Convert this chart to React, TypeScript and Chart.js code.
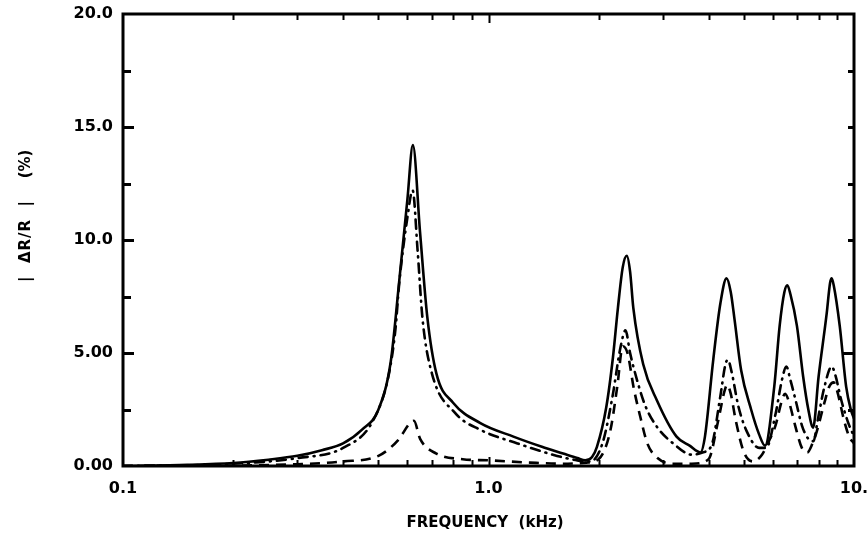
import React, { useEffect, useRef } from "react";
import { Chart, registerables } from "chart.js";

Chart.register(...registerables);

// Frequency (kHz) and |ΔR/R| (%) for the three traces
const SOLID_F = [
  0.1, 0.15, 0.2, 0.25, 0.3, 0.35, 0.4, 0.45, 0.5, 0.54, 0.57, 0.6, 0.621, 0.65, 0.68, 0.72, 0.8, 0.95, 1.17, 1.4, 1.6, 1.75, 1.84,
  1.92, 1.98, 2.1, 2.19, 2.26, 2.33, 2.39, 2.44, 2.49, 2.65, 2.89, 3.27, 3.55, 3.8,
  3.91, 4.12, 4.31, 4.48, 4.6, 4.71, 4.91, 5.23, 5.5, 5.71,
  6.05, 6.26, 6.45, 6.57, 6.7, 6.98, 7.26, 7.5, 7.73,
  8.0, 8.42, 8.6, 8.69, 8.8, 9.14, 9.52, 9.8, 10,
];
const SOLID_R = [
  0.0, 0.05, 0.13, 0.28, 0.45, 0.7, 1.0, 1.6, 2.5, 4.6, 8.2, 11.8, 14.2, 10.3, 6.6, 4.1, 2.8, 1.9, 1.3, 0.85, 0.55, 0.35, 0.25,
  0.4, 0.85, 2.6, 4.8, 7.0, 8.8, 9.3, 8.6, 7.0, 4.5, 2.9, 1.3, 0.9, 0.6,
  1.3, 4.7, 7.2, 8.3, 7.7, 6.5, 4.25, 2.5, 1.4, 0.9,
  3.5, 6.2, 7.7, 8.0, 7.6, 6.2, 3.95, 2.5, 1.7,
  3.95, 6.75, 8.1, 8.3, 8.0, 6.2, 3.5, 2.5, 2.1,
];

const DASHDOT_F = [
  0.1, 0.2, 0.3, 0.4, 0.483, 0.532, 0.556, 0.57, 0.6, 0.62, 0.64, 0.66, 0.7, 0.81, 0.95, 1.2, 1.5, 1.75, 1.9,
  2.05, 2.18, 2.3, 2.37, 2.44, 2.5, 2.68, 2.9, 3.2, 3.6, 3.85,
  4.08, 4.3, 4.45, 4.52, 4.62, 4.83, 5.1, 5.5, 5.75,
  6.1, 6.35, 6.53, 6.7, 6.95, 7.2, 7.5, 7.75,
  7.95, 8.3, 8.69, 8.9, 9.2, 9.6, 10,
];
const DASHDOT_R = [
  0.0, 0.1, 0.35, 0.8, 2.0, 3.95, 6.0, 8.1, 11.0, 12.2, 9.5, 6.5, 4.1, 2.35, 1.6, 1.0, 0.5, 0.25, 0.2,
  1.0, 3.0, 5.3, 6.0, 5.0, 4.3, 2.7, 1.7, 1.0, 0.5, 0.6,
  0.93, 3.0, 4.5, 4.7, 4.2, 2.62, 1.5, 0.8, 0.8,
  2.3, 3.8, 4.4, 3.8, 2.8, 1.8, 1.2, 1.1,
  2.0, 3.5, 4.4, 4.0, 3.0, 2.0, 1.3,
];

const DASHED_F = [
  0.1, 0.2, 0.3, 0.4, 0.5, 0.566, 0.61, 0.625, 0.65, 0.72, 0.85, 1.0, 1.3, 1.6, 1.85,
  2.0, 2.15, 2.25, 2.33, 2.4, 2.5, 2.6, 2.72, 2.9, 3.2, 3.6,
  4.0, 4.25, 4.42, 4.5, 4.6, 4.75, 5.0, 5.3, 5.6, 5.85,
  6.1, 6.35, 6.48, 6.65, 6.9, 7.2, 7.45, 7.7,
  7.9, 8.3, 8.55, 8.8, 9.0, 9.4, 9.7, 10,
];
const DASHED_R = [
  0.0, 0.02, 0.08, 0.2, 0.45, 1.15, 1.9, 2.0, 1.2, 0.55, 0.3, 0.25, 0.15, 0.1, 0.15,
  0.3, 1.5, 3.5, 5.3, 5.0, 3.4, 2.2, 1.0, 0.35, 0.1, 0.1,
  0.3, 2.0, 3.3, 3.6, 3.2, 2.0, 0.6, 0.2, 0.5, 1.1,
  1.8, 2.9, 3.2, 2.8, 1.8, 0.8, 0.6, 1.0,
  1.5, 2.8, 3.5, 3.7, 3.3, 2.0, 1.3, 1.0,
];

// Axis tick positions and the labels printed at them
const X_TICKS = [0.1, 0.2, 0.3, 0.4, 0.5, 0.6, 0.7, 0.8, 0.9, 1, 2, 3, 4, 5, 6, 7, 8, 9, 10];
const X_LABELS: Record<string, string> = { "0.1": "0.1", "1": "1.0", "10": "10." };
const Y_TICKS = [0, 2.5, 5, 7.5, 10, 12.5, 15, 17.5, 20];
const Y_LABELS: Record<string, string> = { "0": "0.00", "5": "5.00", "10": "10.0", "15": "15.0", "20": "20.0" };

const X_TITLE = "FREQUENCY  (kHz)";
const Y_TITLE_MAIN = "|  ΔR/R  |";
const Y_TITLE_UNIT = "(%)";

const FONT = "'DejaVu Sans', sans-serif";

const zip = (f: number[], r: number[]) => f.map((x, i) => ({ x, y: r[i] }));

// Draws the boxed frame, inward tick marks on all four sides and the axis titles
const framePlugin = {
  id: "frameAndTitles",
  afterDraw(chart: any) {
    const { ctx, chartArea } = chart;
    const { left, right, top, bottom } = chartArea;
    const xs = chart.scales.x;
    const ys = chart.scales.y;
    ctx.save();
    ctx.strokeStyle = "#000";
    ctx.lineCap = "butt";

    ctx.lineWidth = 2;
    for (const v of X_TICKS) {
      if (v === 0.1 || v === 10) continue;
      const px = Math.round(xs.getPixelForValue(v)) + 0.5;
      const len = Number.isInteger(Math.log10(v)) ? 9 : 6;
      ctx.beginPath();
      ctx.moveTo(px, bottom);
      ctx.lineTo(px, bottom - len);
      ctx.moveTo(px, top);
      ctx.lineTo(px, top + len);
      ctx.stroke();
    }
    ctx.lineWidth = 3;
    for (const v of Y_TICKS) {
      if (v === 0 || v === 20) continue;
      const py = Math.round(ys.getPixelForValue(v)) + 0.5;
      const major = v % 5 === 0;
      ctx.beginPath();
      ctx.moveTo(left, py);
      ctx.lineTo(left + (major ? 11 : 8), py);
      ctx.moveTo(right, py);
      ctx.lineTo(right - (v === 5 ? 11 : 6), py);
      ctx.stroke();
    }

    ctx.lineWidth = 3;
    ctx.strokeRect(left, top, right - left, bottom - top);

    ctx.fillStyle = "#000";
    ctx.textAlign = "center";
    ctx.textBaseline = "middle";
    ctx.font = `bold 15px ${FONT}`;
    ctx.fillText(X_TITLE, 485, 523);

    ctx.translate(26, 217);
    ctx.rotate(-Math.PI / 2);
    ctx.fillText(Y_TITLE_UNIT, 53, 0);
    (ctx as any).letterSpacing = "1px";
    ctx.fillText(Y_TITLE_MAIN, -24, 0);
    ctx.restore();
  },
};

export default function App() {
  const ref = useRef<HTMLCanvasElement | null>(null);

  useEffect(() => {
    if (!ref.current) return;
    const line = (data: number[], f: number[], dash: number[], cap: CanvasLineCap) => ({
      data: zip(f, data),
      borderColor: "#000",
      backgroundColor: "#000",
      borderWidth: 2.6,
      borderDash: dash,
      borderCapStyle: cap,
      pointRadius: 0,
      cubicInterpolationMode: "monotone" as const,
      fill: false,
    });
    const chart = new Chart(ref.current, {
      type: "line",
      data: {
        datasets: [
          line(SOLID_R, SOLID_F, [], "butt"),
          line(DASHDOT_R, DASHDOT_F, [9, 6, 1, 6], "round"),
          line(DASHED_R, DASHED_F, [10, 7], "butt"),
        ],
      },
      options: {
        animation: false,
        responsive: false,
        devicePixelRatio: 1,
        layout: { padding: { left: 0, right: 14, top: 14, bottom: 0 } },
        plugins: { legend: { display: false }, tooltip: { enabled: false } },
        scales: {
          x: {
            type: "logarithmic",
            min: 0.1,
            max: 10,
            grid: { display: false, drawTicks: false },
            border: { display: false },
            afterBuildTicks: (s: any) => {
              s.ticks = X_TICKS.map((v) => ({ value: v }));
            },
            afterFit: (s: any) => {
              s.height = 70;
              s.paddingLeft = 0;
              s.paddingRight = 0;
            },
            ticks: {
              autoSkip: false,
              maxRotation: 0,
              padding: 13,
              color: "#000",
              font: { family: FONT, size: 16, weight: "bold" },
              callback: (v: any) => X_LABELS[String(Number(v))] ?? "",
            },
          },
          y: {
            type: "linear",
            min: 0,
            max: 20,
            grid: { display: false, drawTicks: false },
            border: { display: false },
            afterBuildTicks: (s: any) => {
              s.ticks = Y_TICKS.map((v) => ({ value: v }));
            },
            afterFit: (s: any) => {
              s.width = 123;
              s.paddingTop = 0;
              s.paddingBottom = 0;
            },
            ticks: {
              autoSkip: false,
              padding: 10,
              color: "#000",
              font: { family: FONT, size: 16, weight: "bold" },
              callback: (v: any) => Y_LABELS[String(Number(v))] ?? "",
            },
          },
        },
      },
      plugins: [framePlugin],
    });
    return () => chart.destroy();
  }, []);

  return (
    <div style={{ position: "fixed", left: 0, top: 0, width: 868, height: 536, background: "#fff" }}>
      <canvas ref={ref} width={868} height={536} />
    </div>
  );
}
